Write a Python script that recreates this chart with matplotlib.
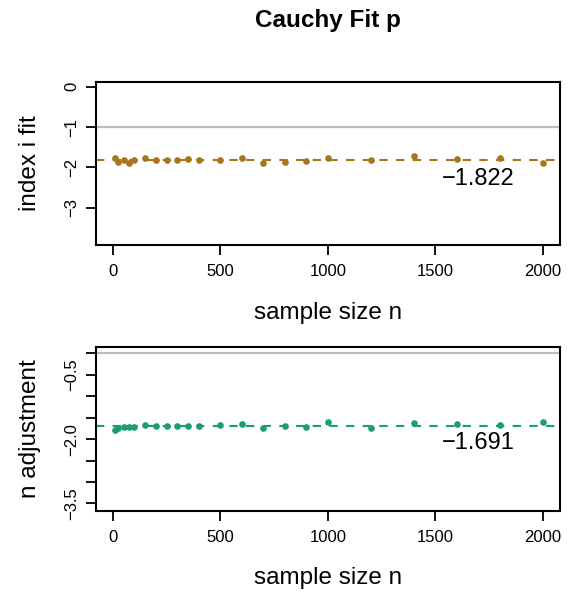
import matplotlib
matplotlib.use("Agg")
import matplotlib.pyplot as plt

plt.rcParams['font.family'] = ['Liberation Sans', 'DejaVu Sans']

# Data
sample_n = [10, 25, 50, 75, 100, 150, 200, 250, 300, 350, 400, 500, 600, 700,
            800, 900, 1000, 1200, 1400, 1600, 1800, 2000]
index_fit = [-1.76, -1.87, -1.82, -1.89, -1.81, -1.78, -1.81, -1.82, -1.81, -1.79,
             -1.82, -1.81, -1.78, -1.89, -1.87, -1.85, -1.76, -1.83, -1.72, -1.79,
             -1.76, -1.90]
n_adjust = [-1.78, -1.75, -1.71, -1.71, -1.71, -1.68, -1.69, -1.69, -1.70, -1.69,
            -1.69, -1.68, -1.65, -1.75, -1.70, -1.71, -1.61, -1.75, -1.62, -1.65,
            -1.68, -1.61]
index_mean = -1.822
adjust_mean = -1.691
index_true = -1.0
adjust_true = 0.0
title = "Cauchy Fit p"
xlabel = "sample size n"
ylabels = ["index i fit", "n adjustment"]
top_yticks = [0, -1, -2, -3]
top_yticklabels = ["0", "\u22121", "\u22122", "\u22123"]
bot_yticks = [0, -0.5, -1.0, -1.5, -2.0, -2.5, -3.0, -3.5]
bot_yticklabels = ["", "\u22120.5", "", "", "\u22122.0", "", "", "\u22123.5"]
xticks = [0, 500, 1000, 1500, 2000]

gold = "#A6761D"
green = "#1B9E77"
grey = "#BEBEBE"

W, H = 571, 595
fig = plt.figure(figsize=(W / 100, H / 100), dpi=100)

def px_axes(l, t, r, b):
    return fig.add_axes([l / W, 1 - b / H, (r - l) / W, (b - t) / H])

ax1 = px_axes(95.7, 81.7, 560, 245)
ax2 = px_axes(95.7, 347.3, 560, 510.7)

panels = [
    (ax1, index_fit, index_mean, index_true, gold, (-3.93, 0.125), top_yticks,
     top_yticklabels, (1700, -2.28), ylabels[0], -0.416),
    (ax2, n_adjust, adjust_mean, adjust_true, green, (-3.67, 0.14), bot_yticks,
     bot_yticklabels, (1700, -2.08), ylabels[1], -0.412),
]

for ax, ys, mean, true, col, ylim, yt, ytl, tpos, ylab, xly in panels:
    ax.axhline(true, color=grey, lw=1.6, zorder=1)
    ax.axhline(mean, color=col, lw=1.5, ls=(0, (4, 4)), zorder=2)
    ax.plot(sample_n, ys, 'o', color=col, ms=4.8, mec='none', zorder=3)
    ax.text(tpos[0], tpos[1], f"\u2212{abs(mean):.3f}", fontsize=17,
            ha='center', va='center', color='black')
    ax.set_xlim(-80, 2080)
    ax.set_ylim(*ylim)
    ax.set_xticks(xticks)
    ax.set_xticklabels([str(x) for x in xticks], fontsize=12)
    ax.set_yticks(yt)
    ax.set_yticklabels(ytl, fontsize=12, rotation=90, va='center')
    ax.tick_params(axis='both', direction='out', length=7, width=1.3, color='black')
    ax.tick_params(axis='x', pad=7)
    ax.tick_params(axis='y', pad=5)
    for s in ax.spines.values():
        s.set_linewidth(1.5)
    ax.set_xlabel(xlabel, fontsize=17.5, va='center')
    ax.xaxis.set_label_coords(0.5, xly)
    ax.set_ylabel(ylab, fontsize=17.5, va='center')
    ax.yaxis.set_label_coords(-0.1415, 0.5)

fig.text(327.9 / W, 1 - 20 / H, title, fontsize=17.5, fontweight='bold',
         ha='center', va='center')

fig.savefig("out.png", dpi=100)
